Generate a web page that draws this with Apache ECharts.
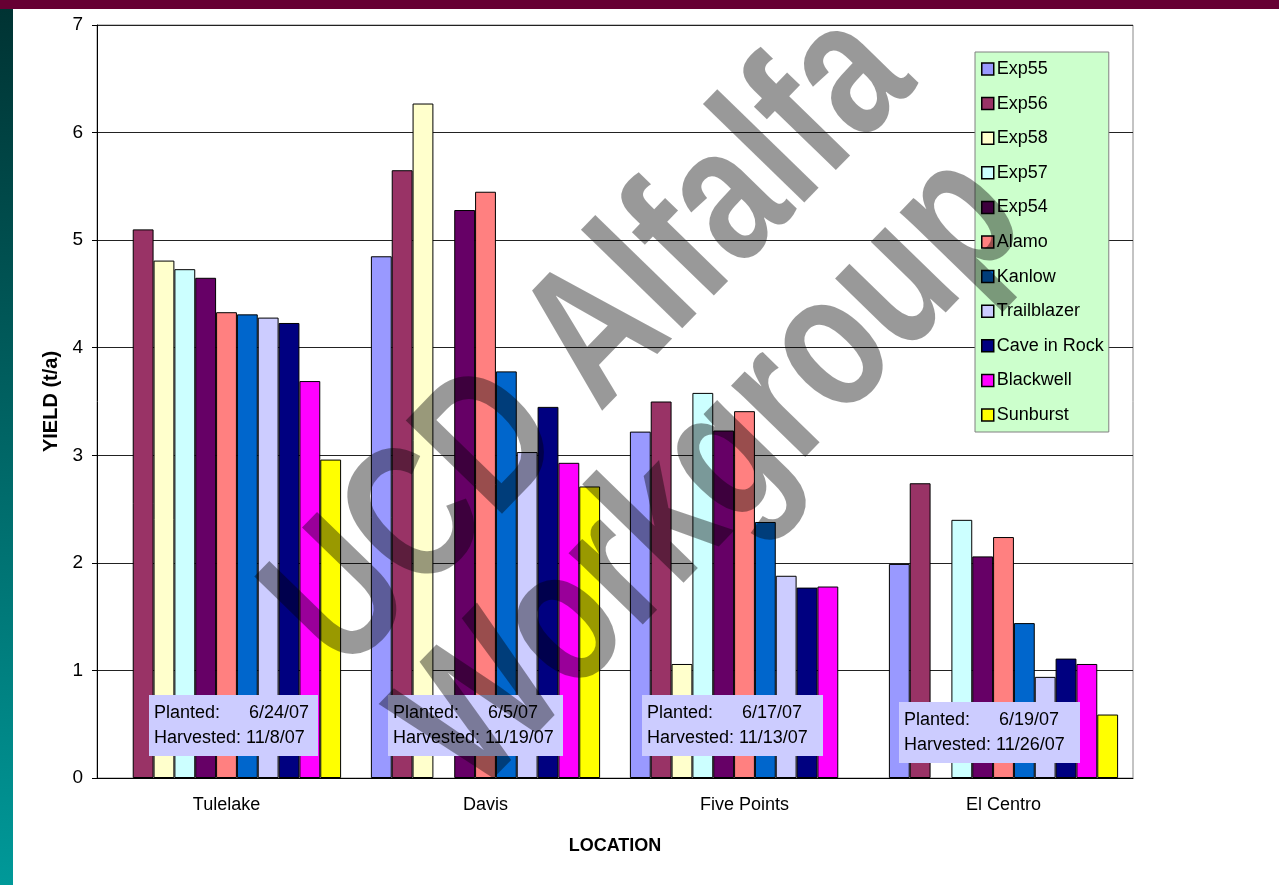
<!DOCTYPE html>
<html>
<head>
<meta charset="utf-8">
<script src="https://cdn.jsdelivr.net/npm/echarts@6/dist/echarts.min.js"></script>
<style>
  html, body { margin: 0; padding: 0; background: #fff; }
  #chart { width: 1279px; height: 885px; }
</style>
</head>
<body>
<div id="chart"></div>
<script>
// locations
var categories = ['Tulelake', 'Davis', 'Five Points', 'El Centro'];

// yields (t/a), null = not planted at that site
var exp55       = [null, 4.85, 3.22, 1.99];
var exp56       = [5.10, 5.65, 3.50, 2.74];
var exp58       = [4.81, 6.27, 1.06, null];
var exp57       = [4.73, null, 3.58, 2.40];
var exp54       = [4.65, 5.28, 3.23, 2.06];
var alamo       = [4.33, 5.45, 3.41, 2.24];
var kanlow      = [4.31, 3.78, 2.38, 1.44];
var trailblazer = [4.28, 3.03, 1.88, 0.94];
var caveInRock  = [4.23, 3.45, 1.77, 1.11];
var blackwell   = [3.69, 2.93, 1.78, 1.06];
var sunburst    = [2.96, 2.71, null, 0.59];

var yTicks = [0, 1, 2, 3, 4, 5, 6, 7];

var planted   = ['6/24/07', '6/5/07', '6/17/07', '6/19/07'];
var harvested = ['11/8/07', '11/19/07', '11/13/07', '11/26/07'];

var names  = ['Exp55', 'Exp56', 'Exp58', 'Exp57', 'Exp54', 'Alamo', 'Kanlow', 'Trailblazer', 'Cave in Rock', 'Blackwell', 'Sunburst'];
var values = [exp55, exp56, exp58, exp57, exp54, alamo, kanlow, trailblazer, caveInRock, blackwell, sunburst];
var colors = ['#9999FF', '#993366', '#FFFFCC', '#CCFFFF', '#660066', '#FF8080', '#0066CC', '#CCCCFF', '#000080', '#FF00FF', '#FFFF00'];

var font = 'Liberation Sans, Arial, sans-serif';

var series = names.map(function (n, i) {
    return {
        name: n,
        type: 'bar',
        data: values[i],
        barGap: 0,
        barCategoryGap: '11.5%',
        itemStyle: { color: colors[i], borderColor: '#000', borderWidth: 1 }
    };
});

// planted/harvested boxes (pixel layout)
var boxPos = [[149, 695], [388, 695], [642, 695], [899, 702]];
var boxW = [169, 175, 181, 181];
var notes = [];
boxPos.forEach(function (p, i) {
    var x = p[0], y = p[1];
    notes.push(
        { type: 'rect', z: 50, shape: { x: x, y: y, width: boxW[i], height: 61 }, style: { fill: '#CCCCFF' } },
        { type: 'text', z: 51, x: x + 5, y: y + 18, style: { text: 'Planted:', font: '18px ' + font, fill: '#000', verticalAlign: 'middle' } },
        { type: 'text', z: 51, x: x + 100, y: y + 18, style: { text: planted[i], font: '18px ' + font, fill: '#000', verticalAlign: 'middle' } },
        { type: 'text', z: 51, x: x + 5, y: y + 43, style: { text: 'Harvested: ' + harvested[i], font: '18px ' + font, fill: '#000', verticalAlign: 'middle' } }
    );
});

var option = {
    backgroundColor: '#fff',
    animation: false,
    color: colors,
    grid: {
        left: 97, right: 146, top: 25, bottom: 107,
        show: true, borderColor: '#888', borderWidth: 1
    },
    legend: {
        orient: 'vertical',
        left: 975, top: 52,
        padding: [8, 5, 8, 6],
        backgroundColor: '#CCFFCC',
        borderColor: '#808080',
        borderWidth: 1,
        borderRadius: 0,
        itemWidth: 12, itemHeight: 12,
        itemGap: 16.6,
        icon: 'rect',
        itemStyle: { borderColor: '#000', borderWidth: 1.5 },
        textStyle: { fontFamily: font, fontSize: 18, color: '#000', padding: [0, 0, 0, -2] },
        data: names
    },
    xAxis: {
        type: 'category',
        data: categories,
        name: 'LOCATION',
        nameLocation: 'middle',
        nameGap: 59,
        nameTextStyle: { fontFamily: font, fontSize: 18, fontWeight: 'bold', color: '#000' },
        axisLine: { lineStyle: { color: '#000', width: 1 } },
        axisTick: { length: 6, lineStyle: { color: '#000' } },
        axisLabel: { fontFamily: font, fontSize: 18, color: '#000', margin: 18 }
    },
    yAxis: {
        type: 'value',
        min: yTicks[0], max: yTicks[yTicks.length - 1], interval: 1,
        name: 'YIELD (t/a)',
        nameLocation: 'middle',
        nameGap: 29,
        nameTextStyle: { fontFamily: font, fontSize: 20, fontWeight: 'bold', color: '#000' },
        axisLine: { show: true, lineStyle: { color: '#000', width: 1 } },
        axisTick: { show: true, length: 5, lineStyle: { color: '#000' } },
        axisLabel: { fontFamily: font, fontSize: 19, color: '#000', margin: 14 },
        splitLine: { lineStyle: { color: '#222', width: 1 } }
    },
    graphic: [
        { type: 'rect', z: -10, shape: { x: 0, y: 0, width: 1279, height: 9 }, style: { fill: '#660033' } },
        {
            type: 'rect', z: -10, shape: { x: 0, y: 9, width: 13, height: 876 },
            style: {
                fill: new echarts.graphic.LinearGradient(0, 0, 0, 1, [
                    { offset: 0, color: '#003333' },
                    { offset: 1, color: '#009999' }
                ])
            }
        }
    ].concat(notes).concat([
        {
            type: 'text', z: 100, x: 593, y: 343, rotation: 0.8, scaleX: 1, scaleY: 1.3,
            style: { text: 'UCD Alfalfa', font: 'bold 150px ' + font, fill: 'rgba(0,0,0,0.4)', align: 'center', verticalAlign: 'middle' }
        },
        {
            type: 'text', z: 100, x: 714, y: 474, rotation: 0.8, scaleX: 1, scaleY: 1.3,
            style: { text: 'Workgroup', font: 'bold 150px ' + font, fill: 'rgba(0,0,0,0.4)', align: 'center', verticalAlign: 'middle' }
        }
    ]),
    series: series
};

var myChart = echarts.init(document.getElementById('chart'));
myChart.setOption(option);
</script>
</body>
</html>
